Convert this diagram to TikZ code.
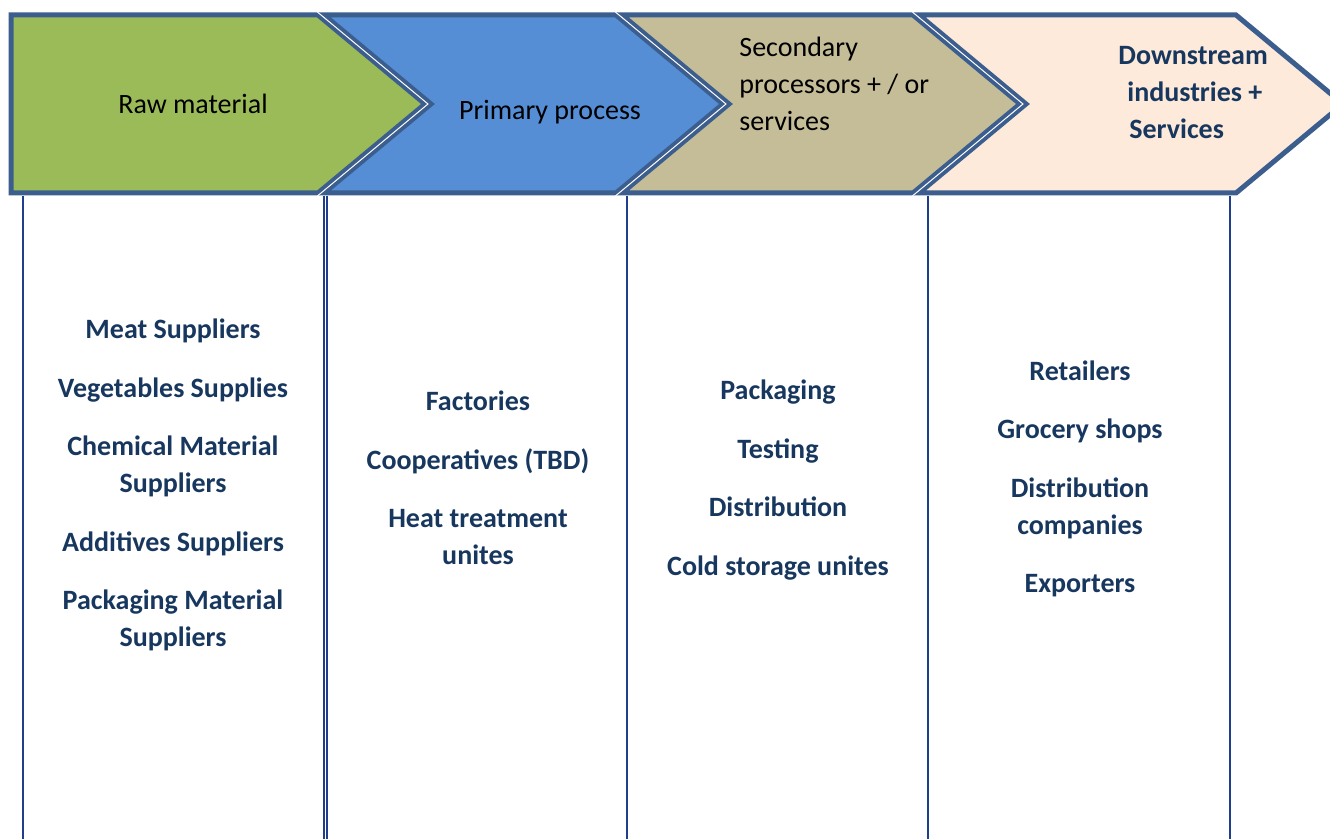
\documentclass[tikz,border=0pt]{standalone}
\usepackage{fontspec}
\setmainfont{Carlito}

\definecolor{stageline}{HTML}{3C5E8E}
\definecolor{rawgreen}{HTML}{9BBB59}
\definecolor{primblue}{HTML}{558ED5}
\definecolor{secotan}{HTML}{C4BD97}
\definecolor{downpeach}{HTML}{FDEADA}
\definecolor{itemblue}{HTML}{17375E}
\definecolor{colblue}{HTML}{1F3F8C}

\begin{document}
\begin{tikzpicture}[x=0.5pt,y=-0.5pt,
    stage/.style={draw=stageline,line width=2.5pt,line join=miter},
    gapline/.style={draw=white,line width=0.5pt},
    colline/.style={draw=colblue,line width=0.75pt},
    headtext/.style={font=\fontsize{14}{18.5}\selectfont},
    itemtext/.style={font=\fontsize{14}{18.5}\selectfont\bfseries,text=itemblue,align=center}]
    \useasboundingbox (0,0) rectangle (1330,839);
    \clip (0,0) rectangle (1330,839);

    % columns under the stages
    \draw[colline] (23,196) -- (23,839);
    \draw[colline] (324,196) -- (324,839);
    \draw[colline] (327,196) -- (327,839);
    \draw[colline] (627,196) -- (627,839);
    \draw[colline] (928,196) -- (928,839);
    \draw[colline] (1230,196) -- (1230,839);

    % stages
    \draw[stage,fill=rawgreen] (11,15) -- (318,15) -- (425,104) -- (318,193) -- (11,193) -- cycle;
    \draw[stage,fill=primblue] (324,15) -- (616,15) -- (723,104) -- (616,193) -- (324,193) -- (431,104) -- cycle;
    \draw[stage,fill=secotan] (622,15) -- (913,15) -- (1020,104) -- (913,193) -- (622,193) -- (729,104) -- cycle;
    \draw[stage,fill=downpeach] (919,15) -- (1236,15) -- (1343,104) -- (1236,193) -- (919,193) -- (1026,104) -- cycle;
    \draw[gapline] (317.4,12) -- (428,104) -- (317.4,196);
    \draw[gapline] (615.4,12) -- (726,104) -- (615.4,196);
    \draw[gapline] (912.4,12) -- (1023,104) -- (912.4,196);

    \node[headtext] (rawhead) at (193,104) {Raw material};
    \node[headtext] (primhead) at (550,112) {Primary process};
    \node[headtext,align=left,anchor=west,inner sep=0pt] (secohead) at (739,84) {Secondary\\processors + / or\\services};
    \node[itemtext,align=left,anchor=west,inner sep=0pt] (downhead) at (1118,93) {Downstream\\\hspace*{4.5pt}industries +\\\hspace*{5.5pt}Services};

    \node[itemtext] (rawitems) at (173,485) {Meat Suppliers\\[10.75pt]Vegetables Supplies\\[10.75pt]Chemical Material\\Suppliers\\[10.75pt]Additives Suppliers\\[10.75pt]Packaging Material\\Suppliers};
    \node[itemtext] (primitems) at (478,478) {Factories\\[10.75pt]Cooperatives (TBD)\\[10.75pt]Heat treatment\\unites};
    \node[itemtext] (secoitems) at (778,480) {Packaging\\[10.75pt]Testing\\[10.75pt]Distribution\\[10.75pt]Cold storage unites};
    \node[itemtext] (downitems) at (1080,479) {Retailers\\[10.75pt]Grocery shops\\[10.75pt]Distribution\\companies\\[10.75pt]Exporters};
\end{tikzpicture}
\end{document}
